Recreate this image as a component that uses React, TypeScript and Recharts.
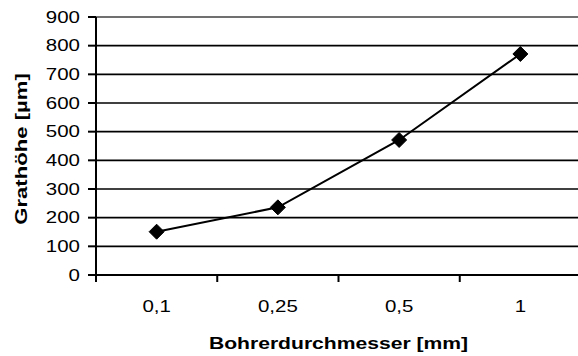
import React from 'react';
import { LineChart, Line, XAxis, YAxis, CartesianGrid, ReferenceLine, Label } from 'recharts';

const categories = ['0,1', '0,25', '0,5', '1'];
const grathoehe = [151, 236, 471, 771];
const yTicks = [0, 100, 200, 300, 400, 500, 600, 700, 800, 900];
const xTitle = 'Bohrerdurchmesser [mm]';
const yTitle = 'Grathöhe [µm]';

const data = categories.map((c, i) => ({ name: c, value: grathoehe[i], pos: i + 0.5 }));
const boundaryTicks = [0, ...categories.map((_, i) => i + 1)];

const FONT = '"Liberation Sans", Arial, Helvetica, sans-serif';
const STRETCH = 1.28;
const FS = 16;

const YTick = (props: any) => {
  const { x, y, payload } = props;
  return (
    <g transform={`translate(${x},${y}) scale(${STRETCH},1)`}>
      <text x={0} y={0} dy="0.36em" textAnchor="end" fontSize={FS} fontFamily={FONT} fill="#000">
        {payload.value}
      </text>
    </g>
  );
};

const XTick = (props: any) => {
  const { x, y, payload } = props;
  return (
    <g transform={`translate(${x},${y + 29}) scale(${STRETCH},1)`}>
      <text x={0} y={0} textAnchor="middle" fontSize={FS} fontFamily={FONT} fill="#000">
        {payload.value}
      </text>
    </g>
  );
};

const EmptyTick = () => <g />;

const XTitle = (props: any) => {
  const { viewBox } = props;
  const cx = viewBox.x + viewBox.width / 2;
  return (
    <g transform={`translate(${cx},${viewBox.y + 66}) scale(${STRETCH},1)`}>
      <text x={0} y={0} textAnchor="middle" fontSize={FS + 0.5} fontWeight="bold" fontFamily={FONT} fill="#000">
        {xTitle}
      </text>
    </g>
  );
};

const YTitle = (props: any) => {
  const { viewBox } = props;
  const cy = viewBox.y + viewBox.height / 2 + 3;
  return (
    <g transform={`translate(27,${cy}) rotate(-90) scale(1.34,1)`}>
      <text x={0} y={0} textAnchor="middle" fontSize={FS + 0.5} fontWeight="bold" fontFamily={FONT} fill="#000">
        {yTitle}
      </text>
    </g>
  );
};

const Diamond = (props: any) => {
  const { cx, cy } = props;
  if (cx == null || cy == null) return null;
  const r = 7.5;
  return (
    <polygon
      points={`${cx},${cy - r} ${cx + r},${cy} ${cx},${cy + r} ${cx - r},${cy}`}
      fill="#000"
      stroke="#000"
      strokeWidth={1}
    />
  );
};

export default function App() {
  return (
    <div style={{ position: 'absolute', left: 0, top: 0, width: 578, height: 356, overflow: 'hidden', background: '#fff' }}>
      <LineChart width={590} height={356} data={data} margin={{ top: 17, right: 9, left: 0, bottom: 0 }}>
        <CartesianGrid horizontal vertical={false} stroke="#000" strokeWidth={1.7} xAxisId="cats" yAxisId="y" />
        <XAxis
          xAxisId="cats"
          dataKey="name"
          type="category"
          scale="band"
          tickLine={false}
          axisLine={false}
          tickSize={0}
          tickMargin={0}
          tick={<XTick />}
          height={73}
          interval={0}
        >
          <Label content={<XTitle />} />
        </XAxis>
        <XAxis
          xAxisId="axisTicks"
          dataKey="pos"
          type="number"
          scale="linear"
          domain={[0, categories.length]}
          ticks={boundaryTicks}
          interval={0}
          tick={<EmptyTick />}
          tickLine={{ stroke: '#000', strokeWidth: 2 }}
          tickSize={7}
          axisLine={{ stroke: '#000', strokeWidth: 2 }}
          height={8}
          allowDataOverflow
        />
        <YAxis
          yAxisId="y"
          width={96}
          domain={[0, 900]}
          ticks={yTicks}
          interval={0}
          tickSize={8}
          tickMargin={8}
          tick={<YTick />}
          tickLine={{ stroke: '#000', strokeWidth: 2 }}
          axisLine={{ stroke: '#000', strokeWidth: 2 }}
        >
          <Label content={<YTitle />} />
        </YAxis>
        <ReferenceLine y={900} yAxisId="y" xAxisId="cats" stroke="#808080" strokeWidth={1.7} />
        <Line
          xAxisId="cats"
          yAxisId="y"
          dataKey="value"
          stroke="#000"
          strokeWidth={2}
          dot={<Diamond />}
          isAnimationActive={false}
        />
      </LineChart>
    </div>
  );
}
